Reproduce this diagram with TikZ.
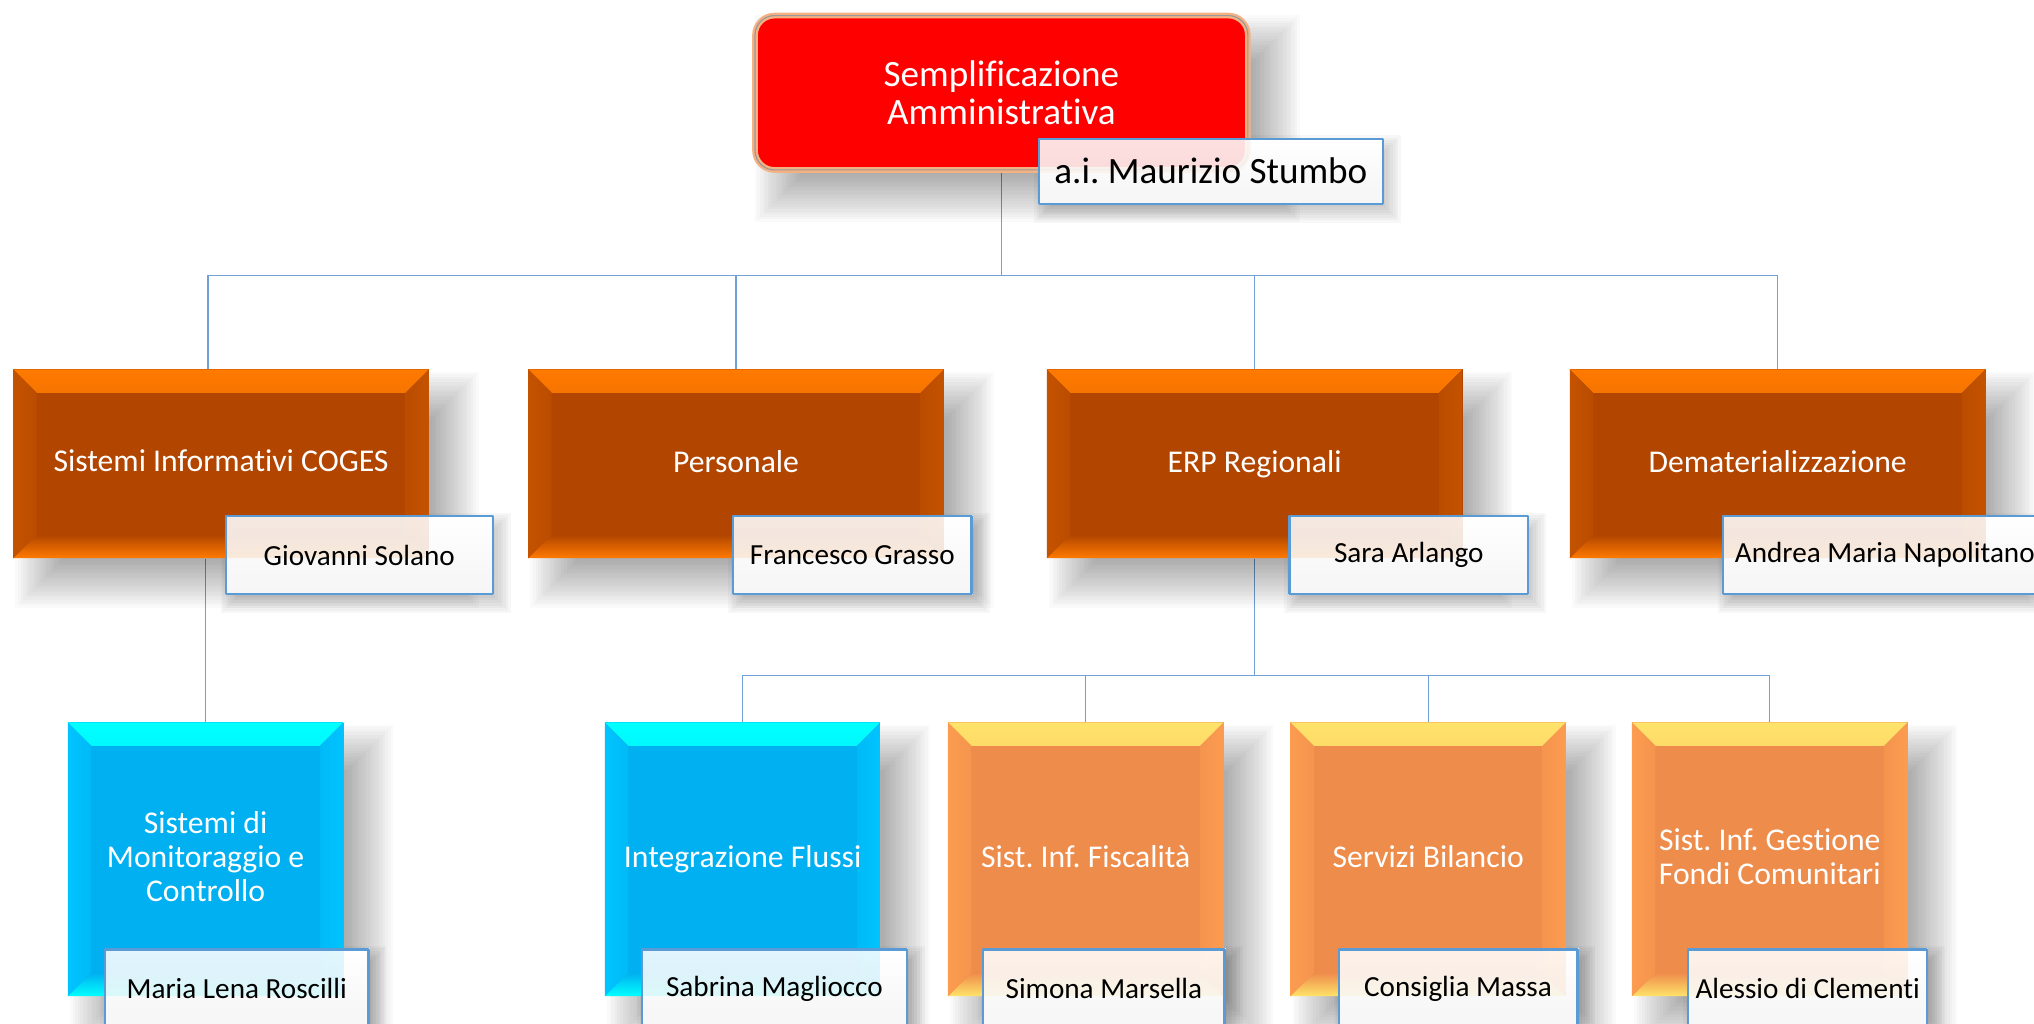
\documentclass[tikz,border=0pt]{standalone}
\usepackage{fontspec}
\setmainfont{Carlito}[Ligatures=NoCommon]
\usetikzlibrary{calc}
\pgfdeclarelayer{fondo}
\pgfdeclarelayer{ombre}
\pgfsetlayers{fondo,ombre,main}
\definecolor{rosso}{HTML}{FF0000}
\definecolor{alone}{HTML}{F4B183}
\definecolor{bordo}{HTML}{B24600}
\definecolor{bordochiaro}{HTML}{FF7A00}
\definecolor{bordolato}{HTML}{C45300}
\definecolor{azzurro}{HTML}{00B0F0}
\definecolor{azzurrochiaro}{HTML}{00FFFF}
\definecolor{azzurrolato}{HTML}{00C4FF}
\definecolor{arancio}{HTML}{EE8C4B}
\definecolor{aranciochiaro}{HTML}{FFE36A}
\definecolor{aranciolato}{HTML}{FC9C50}
\definecolor{linea}{HTML}{6FA0D8}
\definecolor{cornice}{HTML}{5B9BD5}
\frenchspacing
\begin{document}
\begin{tikzpicture}[x=0.02cm,y=-0.02cm,line join=round]
	\tikzset{
		unita/.style n args={3}{rectangle,inner sep=2pt,fill=#1,text=white,align=center,
			font=\fontsize{13.9}{14.8}\selectfont,execute at end node={\vphantom{g}},
			path picture={
				\def\bb{path picture bounding box}
				\shade[top color=#2,bottom color=#1] (\bb.north west)--(\bb.north east)--([shift={(-18,18)}]\bb.north east)--([shift={(18,18)}]\bb.north west)--cycle;
				\shade[top color=#1,bottom color=#2] (\bb.south west)--(\bb.south east)--([shift={(-18,-18)}]\bb.south east)--([shift={(18,-18)}]\bb.south west)--cycle;
				\shade[left color=#3,right color=#3!50!#1] (\bb.north west)--([shift={(18,18)}]\bb.north west)--([shift={(18,-18)}]\bb.south west)--(\bb.south west)--cycle;
				\shade[left color=#3!50!#1,right color=#3] (\bb.north east)--([shift={(-18,18)}]\bb.north east)--([shift={(-18,-18)}]\bb.south east)--(\bb.south east)--cycle;
			}},
		direzione/.style={rectangle,rounded corners=0.3cm,fill=rosso,draw=alone,line width=2.5pt,
			postaction={draw=black!40,line width=0.5pt},text=white,align=center,
			font=\fontsize{16.3}{17}\selectfont,minimum width=7.6cm,minimum height=2.38cm},
		nome/.style={rectangle,draw=cornice,line width=1pt,top color=white,bottom color=black!4,
			fill opacity=.88,text opacity=1,text=black,minimum height=1.2cm,inner sep=1pt,
			font=\fontsize{12.8}{14}\selectfont},
		conn/.style={draw=linea,line width=0.6pt},
	}
	\useasboundingbox (0,0) rectangle (1568,789);
	\node[direzione] (dir) at (772,71.5) {Semplificazione\\Amministrativa};
	\node[nome,minimum width=5.3cm,minimum height=1cm,font=\fontsize{16.3}{18}\selectfont] (ndir) at (933.5,132) {a.i. Maurizio Stumbo};
	\foreach \n/\x/\t in {coges/170.4/Sistemi Informativi COGES,pers/567.4/Personale,erp/967.2/ERP Regionali,demat/1370.4/Dematerializzazione}
	\node[unita={bordo}{bordochiaro}{bordolato},minimum width=6.41cm,minimum height=2.91cm] (\n) at (\x,357.5) {\t};
	\foreach \n/\x/\w/\t in {coges/277/4.12/Giovanni Solano,pers/657/3.68/Francesco Grasso,erp/1086/3.68/Sara Arlango,demat/1453/5/Andrea Maria Napolitano}
	\node[nome,minimum width=\w cm] (n\n) at (\x,428) {\t};
	\foreach \n/\x/\col/\t in {monit/158.5/azzurro/Sistemi di\\Monitoraggio e\\Controllo,flussi/572.5/azzurro/Integrazione Flussi,fisc/837/arancio/Sist. Inf. Fiscalità,bil/1101/arancio/Servizi Bilancio,fondi/1364.3/arancio/Sist. Inf. Gestione\\Fondi Comunitari}
	\node[unita={\col}{\col chiaro}{\col lato},minimum width=4.25cm,minimum height=4.22cm] (\n) at (\x,662.4) {\t};
	\foreach \n/\x/\w/\t in {monit/182.5/4.06/Maria Lena Roscilli,flussi/597/4.08/Sabrina Magliocco,fisc/851/3.72/Simona Marsella,bil/1124/3.68/Consiglia Massa,fondi/1393.5/3.68/Alessio di Clementi}
	\node[nome,minimum width=\w cm] (n\n) at (\x,762) {\t};
	\begin{pgfonlayer}{fondo}
		\foreach \n in {pers,erp,demat}
		\draw[conn] (dir.south) -- ++(0,79) -| (\n.north);
		\draw[conn] (dir.south) -- ++(0,79) -| ([xshift=-0.2cm]coges.north);
		\draw[conn] (coges.south -| monit.north) -- (monit.north);
		\foreach \n in {flussi,fisc,bil,fondi}
		\draw[conn] (erp.south) -- ++(0,90) -| (\n.north);
	\end{pgfonlayer}
	\begin{pgfonlayer}{ombre}
		\foreach \n in {dir,coges,pers,erp,demat,monit,flussi,fisc,bil,fondi}
		\foreach \i in {-18,-16,...,18}
		\fill[black,opacity=.02] ($(\n.north west)+(20+\i,20+\i)$) rectangle ($(\n.south east)+(20-\i,20-\i)$);
		\foreach \n in {ndir,ncoges,npers,nerp,ndemat,nmonit,nflussi,nfisc,nbil,nfondi}
		\foreach \i in {-8,-6,...,8}
		\fill[black,opacity=.03] ($(\n.north west)+(5+\i,6+\i)$) rectangle ($(\n.south east)+(5-\i,6-\i)$);
		\foreach \n in {ndir,ncoges,npers,nerp,ndemat,nmonit,nflussi,nfisc,nbil,nfondi}
		\fill[white] (\n.north west) rectangle (\n.south east);
	\end{pgfonlayer}
\end{tikzpicture}
\end{document}
